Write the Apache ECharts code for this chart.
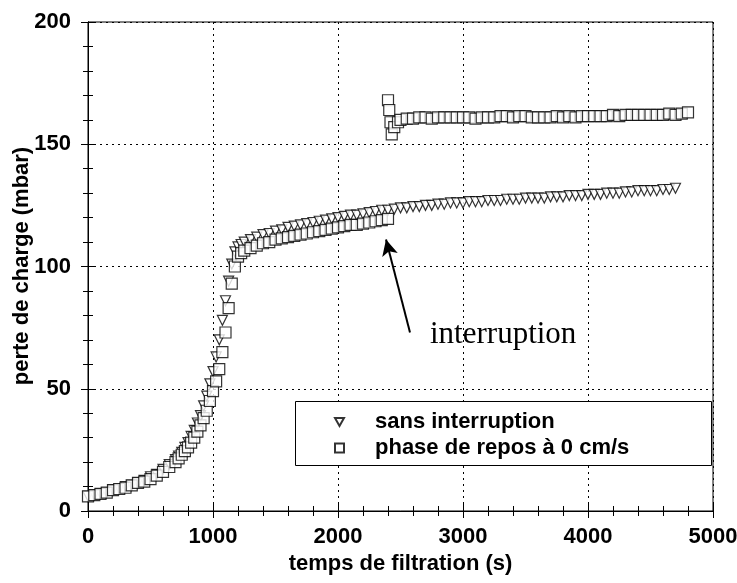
<!DOCTYPE html>
<html>
<head>
<meta charset="utf-8">
<script src="https://cdn.jsdelivr.net/npm/echarts@6/dist/echarts.min.js"></script>
<style>
	html, body { margin: 0; padding: 0; background: #fff; }
	#chart { width: 737px; height: 583px; }
</style>
</head>
<body>
<div id="chart"></div>
<script type="text/javascript">
	// sans interruption (triangles)
	var tempsSans = [
		0, 50, 100, 150, 200, 250, 300, 350, 400, 450,
		500, 550, 600, 650,
		700, 725, 750, 775, 800, 825, 850, 875, 900, 925, 950, 975,
		1000, 1025, 1050, 1075, 1100, 1125, 1150, 1175, 1200, 1225, 1250,
		1300, 1350, 1400, 1450,
		1500, 1550, 1600, 1650, 1700, 1750, 1800, 1850, 1900, 1950,
		2000, 2050, 2100, 2150, 2200, 2250, 2300, 2350, 2400, 2450,
		2500, 2550, 2600, 2650, 2700, 2750, 2800, 2850, 2900, 2950,
		3000, 3050, 3100, 3150, 3200, 3250, 3300, 3350, 3400, 3450,
		3500, 3550, 3600, 3650, 3700, 3750, 3800, 3850, 3900, 3950,
		4000, 4050, 4100, 4150, 4200, 4250, 4300, 4350, 4400, 4450,
		4500, 4550, 4600, 4650, 4700
	];
	var chargeSans = [
		6, 6.5, 7, 7.5, 8.5, 9, 10, 10.5, 11.5, 12.5,
		14, 15, 17, 19,
		21, 22.5, 24, 26, 28, 30.5, 33, 36, 39, 43, 47, 52,
		57, 63, 70, 78, 86, 94, 101, 106, 108, 109, 110,
		111, 112, 113, 113.5,
		114.5, 115, 116, 116.5, 117, 117.5, 118, 118.5, 119, 119.5,
		120, 120.5, 121, 121, 121.5, 122, 122.5, 123, 123, 123.5,
		124, 124, 124.5, 124.5, 125, 125, 125.5, 125.5, 126, 126,
		126, 126.5, 126.5, 126.5, 127, 127, 127, 127.5, 127.5, 127.5,
		128, 128, 128, 128, 128.5, 128.5, 128.5, 129, 129, 129,
		129.5, 129.5, 129.5, 130, 130, 130, 130.5, 130.5, 131, 131,
		131, 131, 131.5, 131.5, 132
	];
	// phase de repos a 0 cm/s (carres)
	var tempsRepos = [
		0, 50, 100, 150, 200, 250, 300, 350, 400, 450,
		500, 550, 600, 650,
		700, 725, 750, 775, 800, 825, 850, 875, 900, 925, 950, 975,
		1000, 1025, 1050, 1075, 1100, 1125, 1150, 1175, 1200, 1225, 1250,
		1300, 1350, 1400, 1450,
		1500, 1550, 1600, 1650, 1700, 1750, 1800, 1850, 1900, 1950,
		2000, 2050, 2100, 2150, 2200, 2250, 2300, 2350, 2400,
		2400, 2410, 2420, 2430, 2450, 2480,
		2500, 2550, 2600, 2650, 2700, 2750, 2800, 2850, 2900, 2950,
		3000, 3050, 3100, 3150, 3200, 3250, 3300, 3350, 3400, 3450,
		3500, 3550, 3600, 3650, 3700, 3750, 3800, 3850, 3900, 3950,
		4000, 4050, 4100, 4150, 4200, 4250, 4300, 4350, 4400, 4450,
		4500, 4550, 4600, 4650, 4700, 4750, 4800
	];
	var chargeRepos = [
		6, 6.5, 7, 7.5, 8.5, 9, 9.5, 10.5, 11.5, 12,
		13, 14.5, 16, 18,
		20, 21.5, 23, 24.5, 26, 28, 30, 32.5, 35, 38, 41, 45,
		49, 53, 58, 65, 73, 83, 93, 100, 104, 105.5, 106.5,
		107.5, 108.5, 109.5, 110,
		111, 111.5, 112, 112.5, 113, 113.5, 114, 114.5, 115, 115.5,
		116, 116.5, 117, 117, 117.5, 118, 118.5, 119, 119.5,
		168, 164, 159, 154, 157, 159,
		160, 160.5, 160.5, 161, 161, 160.5, 161, 161, 161, 161,
		161, 161, 160.5, 161, 161, 161, 161.5, 161.5, 161, 161.5,
		161.5, 161, 161, 161, 161, 161.5, 161, 161.5, 161, 161.5,
		161.5, 161.5, 161.5, 161.5, 162, 161.5, 162, 162, 162, 162,
		162, 162, 162, 162.5, 162, 162.5, 163
	];
	var xTicks = [0, 1000, 2000, 3000, 4000, 5000];
	var yTicks = [0, 50, 100, 150, 200];

	function paires(xs, ys) {
		var list = [];
		for (var i = 0; i < xs.length; i++) {
			list.push([xs[i], ys[i]]);
		}
		return list;
	}

	var chart = echarts.init(document.getElementById('chart'));
	var police = "'Liberation Sans', Arial, sans-serif";
	var pointille = { show: true, lineStyle: { color: '#000', width: 1, type: [2, 4] } };
	var marqueur = { color: '#fff', borderColor: '#000', borderWidth: 1.2 };

	function axeX(pos, montrer) {
		return {
			type: 'value', position: pos, min: 0, max: 5000, interval: 1000,
			axisLine: { show: true, lineStyle: { color: '#000', width: 1 } },
			axisTick: { show: true, inside: true, length: 7, lineStyle: { color: '#000' } },
			minorTick: { show: true, splitNumber: 5, length: 5, lineStyle: { color: '#000' } },
			splitLine: montrer ? pointille : { show: false },
			axisLabel: {
				show: montrer, margin: 15, color: '#000', fontSize: 22, fontWeight: 'bold', fontFamily: police,
				formatter: function (v) { return xTicks.indexOf(v) >= 0 ? String(v) : ''; }
			},
			name: montrer ? 'temps de filtration (s)' : '',
			nameLocation: 'middle', nameGap: 42,
			nameTextStyle: { color: '#000', fontSize: 22, fontWeight: 'bold', fontFamily: police }
		};
	}
	function axeY(pos, montrer) {
		return {
			type: 'value', position: pos, min: 0, max: 200, interval: 50,
			axisLine: { show: true, lineStyle: { color: '#000', width: 1 } },
			axisTick: { show: true, inside: true, length: 7, lineStyle: { color: '#000' } },
			minorTick: { show: true, splitNumber: 5, length: 5, lineStyle: { color: '#000' } },
			splitLine: montrer ? pointille : { show: false },
			axisLabel: {
				show: montrer, margin: 17, color: '#000', fontSize: 22, fontWeight: 'bold', fontFamily: police,
				formatter: function (v) { return yTicks.indexOf(v) >= 0 ? String(v) : ''; }
			}
		};
	}

	var option = {
		animation: false,
		backgroundColor: '#fff',
		grid: {
			left: 88, right: 24, top: 22, bottom: 72, outerBoundsMode: 'none',
			show: true, borderColor: '#000', borderWidth: 1
		},
		xAxis: [axeX('bottom', true), axeX('top', false)],
		yAxis: [axeY('left', true), axeY('right', false)],
		legend: {
			orient: 'vertical', left: 329, top: 406, itemGap: 4, itemWidth: 9, itemHeight: 9, z: 20,
			textStyle: { color: '#000', fontSize: 22, fontWeight: 'bold', fontFamily: police, padding: [0, 0, 0, 26] },
			data: [
				{ name: 'sans interruption', icon: 'path://M0,0 L10,0 L5,9 Z' },
				{ name: 'phase de repos à 0 cm/s', icon: 'rect' }
			]
		},
		graphic: [
			{
				type: 'rect', left: 295, top: 401, z: 10,
				shape: { width: 416, height: 64 },
				style: { fill: '#fff', stroke: '#000', lineWidth: 1 }
			},
			{
				type: 'text', left: 430, top: 319, z: 10,
				style: { text: 'interruption', fill: '#000', font: "31px 'Liberation Serif', 'Times New Roman', serif" }
			},
			{
				// titre de l'axe y
				type: 'text', x: 22, y: 266, rotation: Math.PI / 2, z: 10,
				style: {
					text: 'perte de charge (mbar)', fill: '#000', align: 'center', verticalAlign: 'middle',
					font: "bold 22px 'Liberation Sans', Arial, sans-serif"
				}
			}
		],
		series: [
			{
				name: 'sans interruption', type: 'scatter',
				symbol: 'triangle', symbolRotate: 180, symbolSize: 10,
				itemStyle: marqueur,
				data: paires(tempsSans, chargeSans)
			},
			{
				name: 'phase de repos à 0 cm/s', type: 'scatter',
				symbol: 'rect', symbolSize: 11,
				itemStyle: marqueur,
				data: paires(tempsRepos, chargeRepos),
				markLine: {
					silent: true, symbol: ['none', 'arrow'], symbolSize: [12, 16],
					label: { show: false },
					lineStyle: { color: '#000', width: 2, type: 'solid' },
					data: [[{ coord: [2576, 73] }, { coord: [2384, 111] }]]
				}
			}
		]
	};
	chart.setOption(option);
</script>
</body>
</html>
